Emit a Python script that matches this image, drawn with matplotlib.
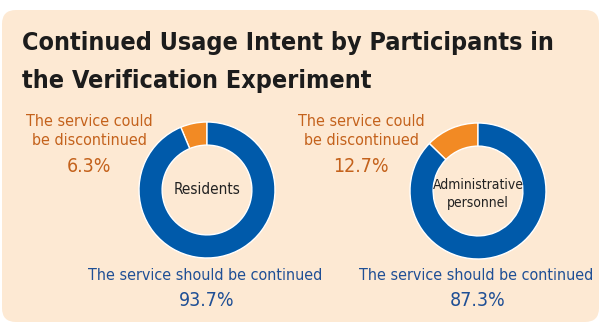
import matplotlib

matplotlib.use("Agg")
import matplotlib.pyplot as plt
from matplotlib.patches import FancyBboxPatch

W, H = 602, 325

title_lines = ["Continued Usage Intent by Participants in", "the Verification Experiment"]
groups = ["Residents", "Administrative\npersonnel"]
group_sizes = [11, 10]
discontinued = [6.3, 12.7]
continued = [93.7, 87.3]
lab_disc = "The service could\nbe discontinued"
lab_cont = "The service should be continued"

BG = "#fde9d3"
BLUE = "#005aaa"
ORANGE = "#f28a24"
TXT_BLUE = "#1f4f95"
TXT_ORANGE = "#c4621c"

plt.rcParams["font.family"] = ["DejaVu Sans"]
plt.rcParams["font.stretch"] = "condensed"

fig = plt.figure(figsize=(W / 100, H / 100), dpi=100)
fig.patch.set_facecolor("white")
ax = fig.add_axes([0, 0, 1, 1])


def Y(y):
    return H - y


ax.add_patch(FancyBboxPatch((2, Y(322)), 597, 312,
                            boxstyle="round,pad=0,rounding_size=14",
                            fc=BG, ec="none"))

for i, line in enumerate(title_lines):
    ax.text(22, Y(50 + 38 * i), line, fontsize=18, fontweight="bold",
            color="#1c1c1c", ha="left", va="baseline")

centers = [(207, 190), (478, 191)]
label_x = [89, 361]
R = 68
for (cx, cy), g, gs, d, c, lx in zip(centers, groups, group_sizes,
                                     discontinued, continued, label_x):
    ax.pie([d, c], colors=[ORANGE, BLUE], startangle=90, counterclock=True,
           center=(cx, Y(cy)), radius=R,
           wedgeprops=dict(width=R * 0.34, edgecolor="white", linewidth=1))
    ax.text(cx, Y(cy + 3) if "\n" in g else Y(cy - 1), g, ha="center",
            va="center", fontsize=gs, color="#222222", linespacing=1.35)
    ax.text(lx, Y(131), lab_disc, ha="center", va="center", fontsize=11.5,
            color=TXT_ORANGE, linespacing=1.4)
    ax.text(lx, Y(167), f"{d}%", ha="center", va="center", fontsize=14,
            color=TXT_ORANGE)
    ax.text(cx - 2, Y(275), lab_cont, ha="center", va="center", fontsize=11.5,
            color=TXT_BLUE)
    ax.text(cx, Y(300), f"{c}%", ha="center", va="center", fontsize=14,
            color=TXT_BLUE)

ax.set_xlim(0, W)
ax.set_ylim(0, H)
ax.set_aspect("auto")
ax.set_axis_off()

fig.savefig("out.png", dpi=100, facecolor="white")
